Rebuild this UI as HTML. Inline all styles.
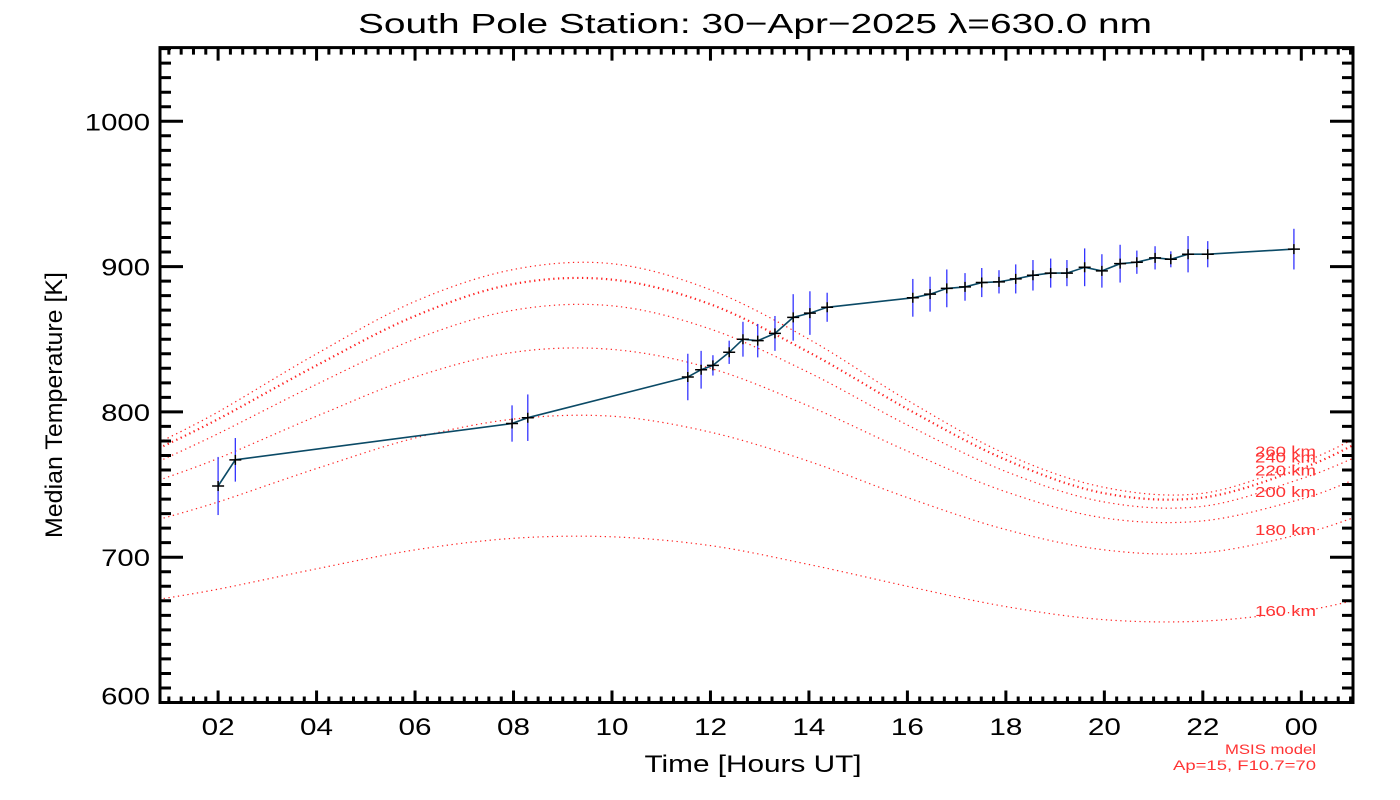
<!DOCTYPE html>
<html><head><meta charset="utf-8"><style>
html,body{margin:0;padding:0;background:#fff;}
svg{display:block;font-family:"Liberation Sans",sans-serif;}
</style></head><body>
<svg id="chart" width="1400" height="800" viewBox="0 0 1400 800">
<text x="755" y="33" font-size="28" text-anchor="middle" textLength="794" lengthAdjust="spacingAndGlyphs">South Pole Station: 30−Apr−2025 λ=630.0 nm</text>
<text x="62" y="405" font-size="24" text-anchor="middle" textLength="266" lengthAdjust="spacingAndGlyphs" transform="rotate(-90 62 405)">Median Temperature [K]</text>
<text x="753" y="772" font-size="24" text-anchor="middle" textLength="217" lengthAdjust="spacingAndGlyphs">Time [Hours UT]</text>
<text x="1316" y="754" font-size="14" fill="#ff3333" text-anchor="end" textLength="91" lengthAdjust="spacingAndGlyphs">MSIS model</text>
<text x="1316" y="770" font-size="14" fill="#ff3333" text-anchor="end" textLength="143" lengthAdjust="spacingAndGlyphs">Ap=15, F10.7=70</text>
<g id="models"></g>
<g id="data"></g>
<g id="axes"></g>
</svg>
<script>
const X0=0.82, X1=25.05, PX0=160, PX1=1353;
const Y0=600, Y1=1050, PY0=702.5, PY1=48.6;
const sx=h=>PX0+(h-X0)/(X1-X0)*(PX1-PX0);
const sy=t=>PY0+(t-Y0)/(Y1-Y0)*(PY1-PY0);
const NS="http://www.w3.org/2000/svg";

const hours=[2.0,2.35,7.97,8.29,11.54,11.81,12.05,12.38,12.66,12.96,13.31,13.68,14.02,14.37,16.11,16.46,16.80,17.17,17.51,17.86,18.20,18.55,18.91,19.24,19.60,19.95,20.32,20.66,21.03,21.35,21.70,22.10,23.85];
const temps=[749,767,792,796,824,829,832,841,850,849,854,865,868,872,878.5,881,885,886,889,889.5,891.5,894,895.5,895.5,899.5,897,902,903,906,905,908.5,908.5,912];
const errs=[20,15,12.5,16,16,13,7,8,12,11.5,12,16,15,10,13,12,13,9.5,10,8,10,10.5,10,9,13,11.5,13,8,8,5.5,12.5,9,14];

const modelHours=[0.8,2,4,6,8,10,12,14,16,18,20,22,24,25.05];
const alt160=[671,678,692,705,713,714,708,695,680,666,657,656,663,670];
const alt180=[726,738,761,782,795,797,786,766,741,719,705,703,716,727];
const alt200=[753,768,797,824,841,843,830,804,773,745,727,725,740,753];
const alt220=[766,785,819,850,870,873,857,827,791,759,738,735,754,768];
const alt240=[775,795,832,866,888,891,874,841,802,767,744,741,761,777];
const alt260=[779,800,840,876,898,902,884,850,808,771,748,744,765,781];
const altNames=["160 km","180 km","200 km","220 km","240 km","260 km"];
const altSeries=[alt160,alt180,alt200,alt220,alt240,alt260];
const xTicks=["02","04","06","08","10","12","14","16","18","20","22","00"];
const yTicks=[600,700,800,900,1000];

function mk(tag,attrs,parent){const e=document.createElementNS(NS,tag);for(const k in attrs)e.setAttribute(k,attrs[k]);parent.appendChild(e);return e;}

function smooth(xs,ys){
  let d="M"+sx(xs[0]).toFixed(1)+","+sy(ys[0]).toFixed(1);
  for(let i=0;i<xs.length-1;i++){
    const p0=i>0?i-1:i,p3=i+2<xs.length?i+2:i+1;
    const x1=sx(xs[i]),y1=sy(ys[i]),x2=sx(xs[i+1]),y2=sy(ys[i+1]);
    const c1x=x1+(x2-sx(xs[p0]))/6,c1y=y1+(y2-sy(ys[p0]))/6;
    const c2x=x2-(sx(xs[p3])-x1)/6,c2y=y2-(sy(ys[p3])-y1)/6;
    d+=` C${c1x.toFixed(1)},${c1y.toFixed(1)} ${c2x.toFixed(1)},${c2y.toFixed(1)} ${x2.toFixed(1)},${y2.toFixed(1)}`;
  }
  return d;
}

const gm=document.getElementById('models');
const svg=document.getElementById('chart');
const clip=mk('clipPath',{id:'pc'},svg);mk('rect',{x:PX0,y:PY1,width:PX1-PX0,height:PY0-PY1},clip);
gm.setAttribute('clip-path','url(#pc)');
altSeries.forEach((s,i)=>{
  const p=mk('path',{d:smooth(modelHours,s),fill:'none',stroke:'#ff2020','stroke-width':i==4?2.2:1.2,'stroke-dasharray':'1.3 3.5'},gm);
  
  
  const v=s[s.length-1];
  const t=mk('text',{x:1316,y:sy(v)+(i==0?15:17),'font-size':15,fill:'#ff3333','text-anchor':'end',textLength:61,lengthAdjust:'spacingAndGlyphs'},svg);
  t.textContent=altNames[i];
  
  
});

const gd=document.getElementById('data');
hours.forEach((h,i)=>{
  const x=sx(h);
  const e=mk('line',{x1:x,x2:x,y1:sy(temps[i]-errs[i]),y2:sy(temps[i]+errs[i]),stroke:'#3333ff','stroke-width':1.3},gd);
  
  
});
const line=mk('polyline',{points:hours.map((h,i)=>sx(h).toFixed(1)+","+sy(temps[i]).toFixed(1)).join(" "),fill:'none',stroke:'#0b4a66','stroke-width':1.6},gd);


hours.forEach((h,i)=>{
  const x=sx(h),y=sy(temps[i]);
  const m=mk('path',{d:`M${x-6},${y}H${x+6}M${x},${y-5}V${y+5}`,stroke:'#000','stroke-width':1.5},gd);
  
  
});

const ga=document.getElementById('axes');
const fr=mk('rect',{x:PX0,y:PY1-1,width:PX1-PX0,height:PY0-PY1+1,fill:'none',stroke:'#000','stroke-width':3},ga);


let d="";
for(let t=600;t<=1050;t+=10){const y=sy(t);const L=(t%100==0)?23:11;d+=`M${PX0},${y}h${L}M${PX1},${y}h${-L}`;}
for(let q=Math.ceil(X0*4);q<=X1*4;q++){const x=sx(q/4);const L=(q%8==0)?12:6;d+=`M${x},${PY0}v${-L}M${x},${PY1}v${L}`;}
const tk=mk('path',{d:d,stroke:'#000','stroke-width':3},ga);


yTicks.forEach(t=>{
  const s=String(t);
  const tx=mk('text',{x:150,y:sy(t)+9-(t==600?7:0),'font-size':24,'text-anchor':'end',textLength:s.length*16.3,lengthAdjust:'spacingAndGlyphs'},ga);
  tx.textContent=s;
  
  
});
xTicks.forEach((lab,i)=>{
  const tx=mk('text',{x:sx(2+2*i),y:735,'font-size':24,'text-anchor':'middle',textLength:33,lengthAdjust:'spacingAndGlyphs'},ga);
  tx.textContent=lab;
  
  
});
</script>
</body></html>
